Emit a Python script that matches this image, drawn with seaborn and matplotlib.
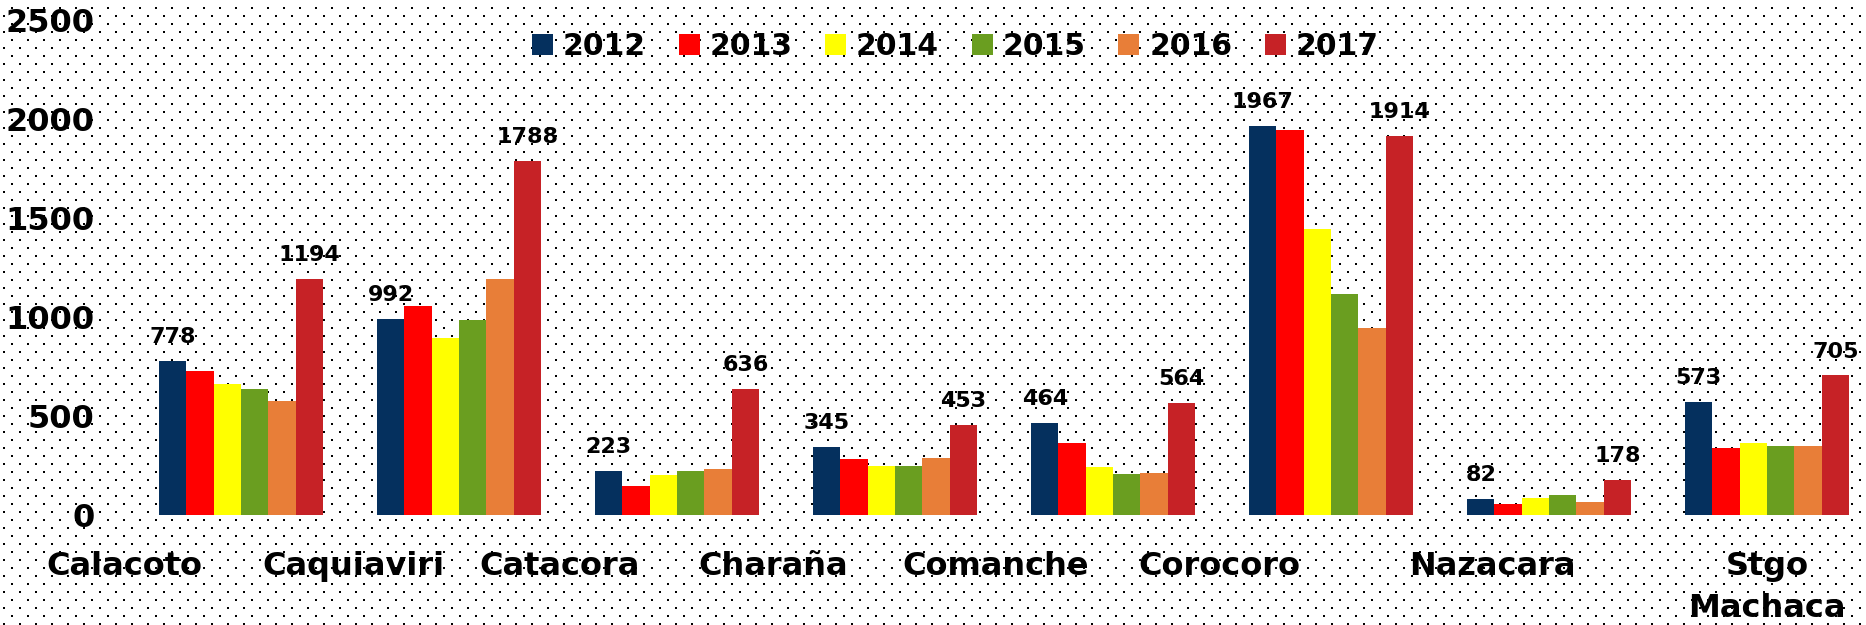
import numpy as np
import pandas as pd
import seaborn as sns
import matplotlib
matplotlib.use('Agg')
import matplotlib.pyplot as plt

# datos por municipio y gestion
municipios = ['Calacoto', 'Caquiaviri', 'Catacora', 'Charaña', 'Comanche',
              'Corocoro', 'Nazacara', 'Stgo\nMachaca']
anios = ['2012', '2013', '2014', '2015', '2016', '2017']
v2012 = [778, 992, 223, 345, 464, 1967, 82, 573]
v2013 = [726, 1056, 148, 282, 366, 1944, 57, 336]
v2014 = [662, 895, 200, 245, 241, 1445, 84, 362]
v2015 = [637, 987, 224, 249, 205, 1114, 103, 348]
v2016 = [578, 1192, 230, 287, 211, 946, 64, 348]
v2017 = [1194, 1788, 636, 453, 564, 1914, 178, 705]
colores = ['#05305E', '#FF0000', '#FFFF00', '#6A9E20', '#E87E38', '#C62226']

# etiquetas del eje x corridas como en el original
label_shift = [-0.537, -0.486, -0.537, -0.56, -0.537, -0.514, -0.26, 0.0]

series = [v2012, v2013, v2014, v2015, v2016, v2017]
rows = []
for anio, vals in zip(anios, series):
    for m, v in zip(municipios, vals):
        rows.append({'municipio': m, 'anio': anio, 'valor': v})
df = pd.DataFrame(rows)

sns.set_style('white')
plt.rcParams['font.family'] = ['DejaVu Sans']
plt.rcParams['text.color'] = 'black'
plt.rcParams['xtick.color'] = 'black'
plt.rcParams['ytick.color'] = 'black'

W, H = 1866, 625
fig = plt.figure(figsize=(W / 100, H / 100), dpi=100)
fig.patch.set_facecolor('white')

# fondo punteado
bg = np.ones((H, W, 3))
for k, y in enumerate(range(7, H, 8)):
    x0 = 11 if k % 2 == 0 else 3
    for x in range(x0, W, 16):
        bg[y:y + 2, x:x + 2] = 0
fig.figimage(bg, xo=0, yo=0, origin='upper', zorder=-10)

ax = fig.add_axes([100 / W, 110 / H, 1766 / W, 495 / H])
ax.set_facecolor('none')

sns.barplot(data=df, x='municipio', y='valor', hue='anio', hue_order=anios,
            palette=dict(zip(anios, colores)), saturation=1, width=0.752,
            linewidth=0, errorbar=None, ax=ax)

ax.set_ylim(0, 2500)
ax.set_xlim(-0.647, 7.454)
ax.set_yticks([0, 500, 1000, 1500, 2000, 2500])
ax.set_yticklabels(['0', '500', '1000', '1500', '2000', '2500'],
                   fontsize=23, fontweight='bold', color='black')
ax.set_xticks([i + s for i, s in enumerate(label_shift)])
ax.set_xticklabels(municipios, fontsize=23, fontweight='bold', color='black')
for lbl in ax.get_xticklabels():
    lbl.set_linespacing(1.45)
ax.tick_params(axis='x', length=0, pad=26)
ax.tick_params(axis='y', length=0, pad=4)
ax.set_xlabel('')
ax.set_ylabel('')
for sp in ax.spines.values():
    sp.set_visible(False)
ax.grid(False)

# etiquetas de valor solo para 2012 y 2017
ax.bar_label(ax.containers[0], labels=[str(v) for v in v2012], padding=10,
             fontsize=16, fontweight='bold', color='black')
ax.bar_label(ax.containers[5], labels=[str(v) for v in v2017], padding=10,
             fontsize=16, fontweight='bold', color='black')

handles, labels = ax.get_legend_handles_labels()
ax.legend(handles, labels, ncol=6, loc='center', bbox_to_anchor=(0.512, 0.9256),
          bbox_transform=fig.transFigure, frameon=False,
          prop={'family': 'DejaVu Sans', 'weight': 'bold', 'size': 21.5},
          labelcolor='black',
          handlelength=0.7, handleheight=0.7, handletextpad=0.33,
          columnspacing=1.1, borderpad=0)

fig.savefig('out.png', dpi=100)
